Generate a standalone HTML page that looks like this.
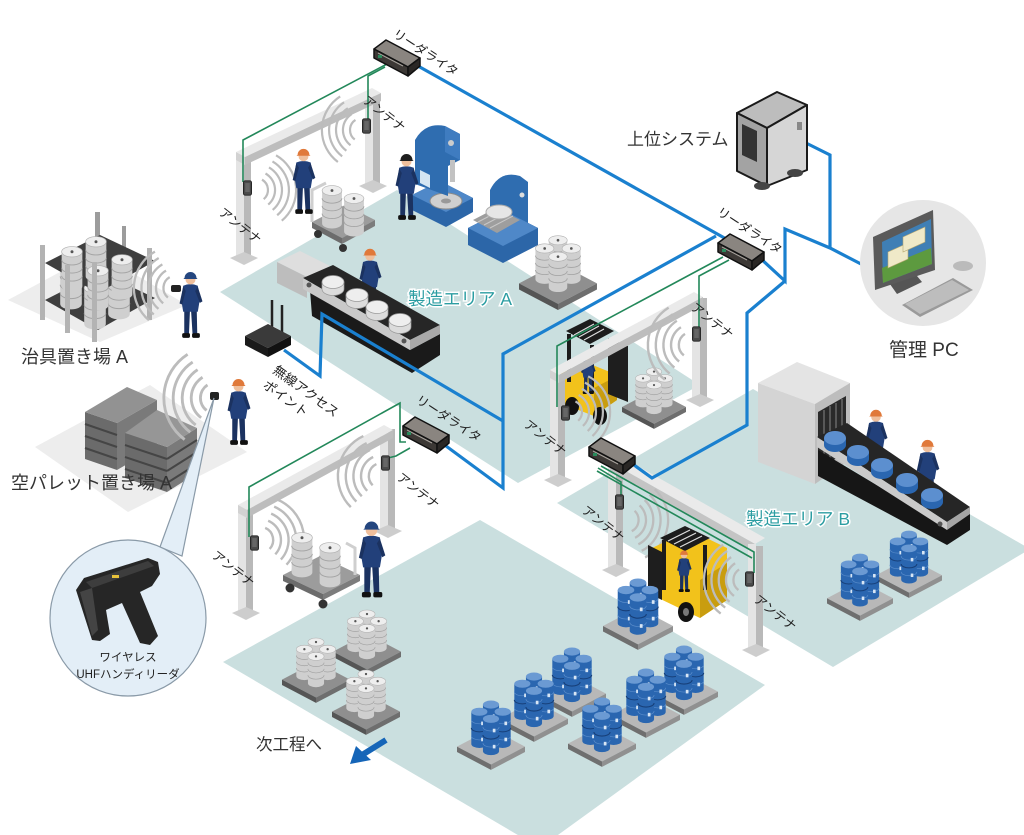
<!DOCTYPE html>
<html><head><meta charset="utf-8"><title>RFID factory</title>
<style>
html,body{margin:0;padding:0;background:#fff;width:1024px;height:835px;overflow:hidden}
svg{display:block}
text{font-family:"Liberation Sans","Noto Sans CJK JP",sans-serif}
</style></head><body>
<svg width="1024" height="835" viewBox="0 0 1024 835" xmlns="http://www.w3.org/2000/svg">
<defs>
<symbol id="man" viewBox="0 0 24 70" overflow="visible">
 <path d="M6,40 L11.5,40 L10.5,64 L6,64 Z" fill="#1b3260"/>
 <path d="M12.5,40 L18,40 L18.5,64 L14,64 Z" fill="#1b3260"/>
 <rect x="4" y="62.5" width="7.5" height="4.5" rx="1.5" fill="#111"/>
 <rect x="13.5" y="62.5" width="7.5" height="4.5" rx="1.5" fill="#111"/>
 <path d="M5,17 Q12,14 19,17 L21,30 L19,42 L5,42 L3,30 Z" fill="#22407a"/>
 <path d="M5,18 L1.5,34 L4,35 L7.5,22 Z" fill="#1b3260"/>
 <path d="M19,18 L23.5,32 L21,33.5 L16.5,22 Z" fill="#1b3260"/>
 <circle cx="12" cy="11" r="4.8" fill="#efbf9c"/>
 <path d="M6.3,9.5 A5.7,5.7 0 0 1 17.7,9.5 L18.8,10.5 L5.2,10.5 Z" fill="currentColor"/>
</symbol>
<symbol id="brl" viewBox="0 0 18 46" overflow="visible">
 <path d="M0,5 V41 A9,4.5 0 0 0 18,41 V5 Z" fill="#2a66b0"/>
 <path d="M0,23 A9,4.5 0 0 0 18,23" fill="none" stroke="#173f78" stroke-width="1.2"/>
 <path d="M0,14 A9,4.5 0 0 0 18,14 M0,32 A9,4.5 0 0 0 18,32" fill="none" stroke="#5a8dcb" stroke-width="0.8"/>
 <rect x="11" y="16" width="3" height="4" fill="#d8e6f5"/>
 <rect x="11" y="34" width="3" height="4" fill="#d8e6f5"/>
 <ellipse cx="9" cy="5" rx="9" ry="4.5" fill="#6b9ad3"/>
</symbol>
<symbol id="gdr" viewBox="0 0 18 40" overflow="visible">
 <path d="M0,5 V35 A9,4.5 0 0 0 18,35 V5 Z" fill="#cfcfcf"/>
 <path d="M0,12 A9,4.5 0 0 0 18,12 M0,19 A9,4.5 0 0 0 18,19 M0,26 A9,4.5 0 0 0 18,26" fill="none" stroke="#a3a3a3" stroke-width="0.8"/>
 <ellipse cx="9" cy="5" rx="9" ry="4.5" fill="#eeeeee" stroke="#b0b0b0" stroke-width="0.6"/>
 <circle cx="9" cy="5" r="1.3" fill="#555"/>
</symbol>
<symbol id="bpal" viewBox="0 0 76 78" overflow="visible">
 <polygon points="0,52 38,32 76,52 38,72" fill="#b8b8b8"/>
 <polygon points="0,52 38,72 38,78 0,58" fill="#6f6f6f"/>
 <polygon points="38,72 76,52 76,58 38,78" fill="#909090"/>
 <use href="#brl" x="29" y="0" width="18" height="46"/>
 <use href="#brl" x="16" y="8" width="18" height="46"/>
 <use href="#brl" x="42" y="8" width="18" height="46"/>
 <use href="#brl" x="29" y="16" width="18" height="46"/>
</symbol>
<symbol id="gpal" viewBox="0 0 76 78" overflow="visible">
 <polygon points="0,52 38,32 76,52 38,72" fill="#8f8f8f"/>
 <polygon points="0,52 38,72 38,78 0,58" fill="#555"/>
 <polygon points="38,72 76,52 76,58 38,78" fill="#6e6e6e"/>
 <use href="#gdr" x="29" y="5" width="18" height="40"/>
 <use href="#gdr" x="16" y="13" width="18" height="40"/>
 <use href="#gdr" x="42" y="13" width="18" height="40"/>
 <use href="#gdr" x="29" y="21" width="18" height="40"/>
</symbol>
<symbol id="rdr" viewBox="0 0 48 40" overflow="visible">
 <polygon points="1,11 13,2 47,20 35,29" fill="#8a8580" stroke="#111" stroke-width="1.5" stroke-linejoin="round"/>
 <polygon points="1,11 35,29 35,38 1,20" fill="#3c3835" stroke="#111" stroke-width="1.5" stroke-linejoin="round"/>
 <polygon points="35,29 47,20 47,28 35,38" fill="#2a2725" stroke="#111" stroke-width="1.5" stroke-linejoin="round"/>
 <line x1="5" y1="15" x2="30" y2="28" stroke="#a8a39d" stroke-width="1"/>
 <rect x="5" y="17" width="4" height="3" fill="#2a8a5c"/>
</symbol>
<symbol id="ant" viewBox="0 0 10 17" overflow="visible">
 <rect x="0.5" y="0.5" width="9" height="16" rx="2" fill="#4a4a4a" stroke="#222"/>
 <rect x="2.5" y="3" width="5" height="10" fill="#666"/>
</symbol>
<g id="wv" fill="none" stroke="#bcbcbc" stroke-width="2.2">
 <path d="M6.9,-9.8 A12,12 0 0 1 6.9,9.8"/>
 <path d="M10.9,-15.6 A19,19 0 0 1 10.9,15.6"/>
 <path d="M14.9,-21.3 A26,26 0 0 1 14.9,21.3"/>
 <path d="M18.9,-27 A33,33 0 0 1 18.9,27"/>
 <path d="M23,-32.8 A40,40 0 0 1 23,32.8"/>
</g>
</defs>

<!-- ============ FLOORS ============ -->
<polygon points="8,300 97,252 187,305 100,342" fill="#ededed"/>
<polygon points="35,447 150,385 247,452 128,512" fill="#ededed"/>
<polygon points="220,292 397,190 700,385 518,483" fill="#cadfdf"/>
<polygon points="557,503 753,389 1030,549 833,667" fill="#cadfdf"/>
<polygon points="223,662 480,520 765,685 540,848" fill="#cadfdf"/>

<!-- ============ RACK ============ -->
<g>
 <rect x="95" y="212" width="5" height="90" fill="#9c9c9c"/>
 <rect x="122" y="226" width="4" height="80" fill="#9c9c9c"/>
 <polygon points="45,300 100,272 155,298 98,330" fill="#3f3f3f"/>
 <use href="#gdr" x="60" y="262" width="22" height="48"/>
 <use href="#gdr" x="108" y="272" width="22" height="48"/>
 <use href="#gdr" x="84" y="282" width="22" height="48"/>
 <polygon points="45,263 100,235 155,261 98,293" fill="#3f3f3f"/>
 <use href="#gdr" x="60" y="246" width="24" height="46"/>
 <use href="#gdr" x="84" y="236" width="24" height="46"/>
 <use href="#gdr" x="110" y="254" width="24" height="46"/>
 <use href="#gdr" x="86" y="265" width="24" height="46"/>
 <rect x="40" y="245" width="5" height="75" fill="#b3b3b3"/>
 <rect x="65" y="265" width="5" height="68" fill="#b3b3b3"/>
 <rect x="92" y="262" width="5" height="80" fill="#b3b3b3"/>
 <rect x="147" y="248" width="5" height="72" fill="#b3b3b3"/>
</g>
<use href="#wv" transform="translate(176,288) rotate(185) scale(1.05)"/>
<use href="#man" x="178" y="268" width="25" height="73" color="#24467f"/>
<rect x="171" y="285" width="10" height="7" rx="2" fill="#222"/>

<!-- ============ PALLET STACK ============ -->
<g>
 <polygon points="85,412 117,423 117,470 85,459" fill="#6b6b6b"/>
 <polygon points="117,423 157,400 157,447 117,470" fill="#7a7a7a"/>
 <g stroke="#454545" stroke-width="2">
  <line x1="85" y1="424" x2="117" y2="435"/><line x1="85" y1="436" x2="117" y2="447"/><line x1="85" y1="448" x2="117" y2="459"/>
 </g>
 <polygon points="85,412 127,387 157,400 117,423" fill="#929292"/>
 <polygon points="125,433 167,447 167,492 125,478" fill="#6b6b6b"/>
 <polygon points="167,447 197,428 197,473 167,492" fill="#7a7a7a"/>
 <g stroke="#454545" stroke-width="2">
  <line x1="125" y1="445" x2="167" y2="459"/><line x1="125" y1="457" x2="167" y2="471"/><line x1="125" y1="469" x2="167" y2="483"/>
  <line x1="167" y1="459" x2="197" y2="440"/><line x1="167" y1="471" x2="197" y2="452"/><line x1="167" y1="483" x2="197" y2="464"/>
 </g>
 <polygon points="125,433 157,410 197,428 167,447" fill="#969696"/>
</g>
<use href="#wv" transform="translate(216,398) rotate(182) scale(1.3)"/>
<use href="#man" x="226" y="375" width="25" height="73" color="#e0793a"/>
<rect x="210" y="392" width="9" height="8" rx="2" fill="#222"/>

<!-- ============ TOP GATE ============ -->
<g>
 <rect x="236" y="154" width="8" height="104" fill="#e4e4e4"/>
 <rect x="244" y="158" width="7" height="100" fill="#b9b9b9"/>
 <polygon points="230,258 244,252 258,258 244,265" fill="#cdcdcd"/>
 <rect x="365" y="94" width="8" height="90" fill="#e4e4e4"/>
 <rect x="373" y="96" width="7" height="88" fill="#b9b9b9"/>
 <polygon points="359,186 373,180 387,186 373,193" fill="#cdcdcd"/>
 <polygon points="236,152 372,88 381,93 245,157" fill="#eaeaea"/>
 <polygon points="245,157 381,93 381,101 245,165" fill="#bdbdbd"/>
 <polygon points="236,152 245,157 245,165 236,160" fill="#d2d2d2"/>
</g>
<use href="#wv" transform="translate(256,190) rotate(-5)"/>
<use href="#wv" transform="translate(362,130) rotate(182)"/>

<!-- machines -->
<g>
 <path d="M412,195 L440,181 L473,198 L473,212 L446,227 L412,210 Z" fill="#2c66a8"/>
 <path d="M412,195 L440,181 L473,198 L446,212 Z" fill="#4f88c8"/>
 <ellipse cx="446" cy="201" rx="16" ry="8" fill="#d0d0d0" stroke="#8a8a8a"/>
 <ellipse cx="446" cy="201" rx="5" ry="2.5" fill="#999"/>
 <path d="M415,140 Q425,122 445,126 L460,134 L460,160 L448,166 L448,196 L415,184 Z" fill="#2f6db0"/>
 <path d="M445,126 L460,134 L460,160 L445,152 Z" fill="#3f7cc0"/>
 <rect x="450" y="160" width="5" height="22" fill="#c2c2c2"/>
 <circle cx="451" cy="143" r="3" fill="#ccc"/>
 <polygon points="420,170 430,175 430,188 420,183" fill="#d5e6f2"/>
</g>
<g>
 <path d="M490,190 Q500,170 520,176 L528,182 L528,238 L490,238 Z" fill="#2f6db0"/>
 <path d="M468,228 L503,210 L538,228 L538,245 L503,263 L468,245 Z" fill="#2c66a8"/>
 <path d="M468,228 L503,210 L538,228 L503,246 Z" fill="#4f88c8"/>
 <polygon points="473,220 496,208 520,220 497,233" fill="#9e9e9e"/>
 <g stroke="#c8c8c8" stroke-width="1"><line x1="478" y1="222" x2="501" y2="210"/><line x1="484" y1="225" x2="507" y2="213"/><line x1="490" y1="228" x2="513" y2="216"/></g>
 <ellipse cx="499" cy="212" rx="13" ry="7" fill="#e6e6e6" stroke="#aaa"/>
 <circle cx="522" cy="195" r="2.5" fill="#ddd"/>
</g>
<use href="#gpal" x="517" y="230" width="82" height="80"/>

<!-- cart + worker top -->
<g>
 <polygon points="312,222 345,205 375,220 342,238" fill="#9c9c9c"/>
 <polygon points="312,222 342,238 342,244 312,228" fill="#6c6c6c"/>
 <polygon points="342,238 375,220 375,226 342,244" fill="#7c7c7c"/>
 <circle cx="318" cy="234" r="4" fill="#333"/><circle cx="343" cy="248" r="4" fill="#333"/>
 <path d="M312,222 L312,190 L326,183" stroke="#cfcfcf" stroke-width="3" fill="none"/>
 <use href="#gdr" x="320" y="185" width="24" height="44"/>
 <use href="#gdr" x="342" y="193" width="24" height="44"/>
</g>
<use href="#man" x="291" y="145" width="25" height="72" color="#e0793a"/>
<use href="#man" x="394" y="150" width="25" height="73" color="#1e1e1e"/>

<!-- conveyor A -->
<use href="#man" x="358" y="245" width="24" height="70" color="#e0793a"/>
<g>
 <polygon points="277,262 300,251 330,266 307,277" fill="#dedede"/>
 <polygon points="277,262 307,277 307,298 277,283" fill="#bdbdbd"/>
 <polygon points="310,290 410,350 440,334 440,355 412,373 312,316" fill="#1a1a1a"/>
 <polygon points="303,278 333,265 440,325 410,340" fill="#262626"/>
 <polygon points="303,278 410,340 410,350 303,289" fill="#c9c9c9"/>
 <polygon points="410,340 440,325 440,334 410,350" fill="#a9a9a9"/>
 <circle cx="309" cy="285" r="2.5" fill="#555"/><circle cx="404" cy="341" r="2.5" fill="#555"/>
 <g fill="#dcdcdc" stroke="#9a9a9a" stroke-width="0.7">
  <path d="M322,282 v7 a11,6.5 0 0 0 22,0 v-7 z"/><ellipse cx="333" cy="282" rx="11" ry="6.5" fill="#eeeeee"/>
  <path d="M346,295 v7 a11,6.5 0 0 0 22,0 v-7 z"/><ellipse cx="357" cy="295" rx="11" ry="6.5" fill="#eeeeee"/>
  <path d="M366,307 v7 a11,6.5 0 0 0 22,0 v-7 z"/><ellipse cx="377" cy="307" rx="11" ry="6.5" fill="#eeeeee"/>
  <path d="M389,320 v7 a11,6.5 0 0 0 22,0 v-7 z"/><ellipse cx="400" cy="320" rx="11" ry="6.5" fill="#eeeeee"/>
 </g>
</g>

<!-- router -->
<g>
 <line x1="272" y1="300" x2="272" y2="333" stroke="#222" stroke-width="2.5"/>
 <line x1="282" y1="305" x2="282" y2="338" stroke="#222" stroke-width="2.5"/>
 <polygon points="245,336 268,324 291,336 268,348" fill="#3a3a3a"/>
 <polygon points="245,336 268,348 268,357 245,345" fill="#1a1a1a"/>
 <polygon points="268,348 291,336 291,345 268,357" fill="#111"/>
</g>

<!-- forklift A -->
<g>
 <polygon points="560,374 585,362 615,374 617,400 594,416 563,404" fill="#f2c21b"/>
 <polygon points="594,388 617,376 617,400 594,416" fill="#c99d0f"/>
 <line x1="569" y1="334" x2="569" y2="382" stroke="#1c1c1c" stroke-width="4"/>
 <line x1="592" y1="345" x2="592" y2="392" stroke="#1c1c1c" stroke-width="4"/>
 <polygon points="566,331 590,319 614,331 590,344" fill="#1c1c1c"/>
 <g stroke="#ddd" stroke-width="1.2"><line x1="574" y1="335" x2="594" y2="324"/><line x1="579" y1="337" x2="599" y2="326"/><line x1="584" y1="340" x2="604" y2="329"/></g>
 <polygon points="608,338 628,346 628,402 608,394" fill="#1e1e1e"/>
 <use href="#man" x="580" y="350" width="16" height="46" color="#e0793a"/>
 <ellipse cx="572" cy="406" rx="7" ry="9" fill="#111"/>
 <ellipse cx="600" cy="416" rx="7" ry="9" fill="#111"/>
</g>
<use href="#gpal" x="622" y="360" width="64" height="72"/>

<!-- forklift gate -->
<g>
 <rect x="550" y="370" width="8" height="110" fill="#e4e4e4"/>
 <rect x="558" y="374" width="7" height="106" fill="#b9b9b9"/>
 <polygon points="544,480 558,474 572,480 558,487" fill="#cdcdcd"/>
 <rect x="692" y="296" width="8" height="104" fill="#e4e4e4"/>
 <rect x="700" y="298" width="7" height="102" fill="#b9b9b9"/>
 <polygon points="686,400 700,394 714,400 700,407" fill="#cdcdcd"/>
 <polygon points="550,370 694,292 703,297 559,375" fill="#eaeaea"/>
 <polygon points="559,375 703,297 703,305 559,383" fill="#bdbdbd"/>
 <polygon points="550,370 559,375 559,383 550,378" fill="#d2d2d2"/>
</g>
<use href="#wv" transform="translate(570,412) rotate(-8)"/>
<use href="#wv" transform="translate(692,345) rotate(183) scale(1.1)"/>

<!-- ============ AREA B ============ -->
<g>
 <polygon points="758,383 797,362 850,383 815,404" fill="#e4e4e4"/>
 <polygon points="758,383 815,404 815,484 758,462" fill="#d4d4d4"/>
 <polygon points="815,404 850,383 850,460 815,484" fill="#bdbdbd"/>
 <polygon points="818,412 846,396 846,452 818,470" fill="#2a2a2a"/>
 <g stroke="#777" stroke-width="1.2"><line x1="824" y1="410" x2="824" y2="465"/><line x1="830" y1="406" x2="830" y2="461"/><line x1="836" y1="403" x2="836" y2="457"/><line x1="842" y1="399" x2="842" y2="454"/></g>
</g>
<use href="#man" x="864" y="406" width="24" height="70" color="#e0793a"/>
<use href="#man" x="915" y="436" width="25" height="72" color="#e0793a"/>
<g>
 <polygon points="818,450 947,527 970,512 970,530 947,545 818,476" fill="#161616"/>
 <polygon points="817,437 847,423 970,507 947,522" fill="#262626"/>
 <polygon points="817,437 947,522 947,530 817,447" fill="#cacaca"/>
 <polygon points="947,522 970,507 970,514 947,530" fill="#a5a5a5"/>
 <circle cx="940" cy="524" r="2.5" fill="#555"/>
 <g fill="#2a66b0">
  <path d="M824,438 v7 a11,7 0 0 0 22,0 v-7 z"/><ellipse cx="835" cy="438" rx="11" ry="7" fill="#5c8fcf"/>
  <path d="M847,452 v7 a11,7 0 0 0 22,0 v-7 z"/><ellipse cx="858" cy="452" rx="11" ry="7" fill="#5c8fcf"/>
  <path d="M871,465 v7 a11,7 0 0 0 22,0 v-7 z"/><ellipse cx="882" cy="465" rx="11" ry="7" fill="#5c8fcf"/>
  <path d="M896,480 v7 a11,7 0 0 0 22,0 v-7 z"/><ellipse cx="907" cy="480" rx="11" ry="7" fill="#5c8fcf"/>
  <path d="M921,495 v7 a11,7 0 0 0 22,0 v-7 z"/><ellipse cx="932" cy="495" rx="11" ry="7" fill="#5c8fcf"/>
 </g>
</g>
<use href="#bpal" x="876" y="530" width="66" height="68"/>
<use href="#bpal" x="827" y="553" width="66" height="68"/>

<!-- gate B -->
<g>
 <rect x="608" y="462" width="8" height="108" fill="#e4e4e4"/>
 <rect x="616" y="466" width="7" height="104" fill="#b9b9b9"/>
 <polygon points="602,570 616,564 630,570 616,577" fill="#cdcdcd"/>
 <polygon points="610,462 620,456 765,538 755,544" fill="#eaeaea"/>
 <polygon points="610,462 755,544 755,552 610,470" fill="#c4c4c4"/>
</g>
<use href="#wv" transform="translate(626,520) rotate(8) scale(1.05)"/>
<!-- forklift B -->
<g>
 <polygon points="652,548 690,530 727,548 727,600 700,618 652,595" fill="#f2c21b"/>
 <polygon points="700,580 727,563 727,600 700,618" fill="#c99d0f"/>
 <line x1="664" y1="540" x2="664" y2="590" stroke="#1c1c1c" stroke-width="4"/>
 <line x1="705" y1="545" x2="705" y2="590" stroke="#1c1c1c" stroke-width="4"/>
 <polygon points="660,538 685,526 710,538 685,551" fill="#1c1c1c"/>
 <g stroke="#ddd" stroke-width="1.2"><line x1="668" y1="541" x2="690" y2="530"/><line x1="674" y1="544" x2="696" y2="533"/><line x1="680" y1="547" x2="702" y2="536"/></g>
 <use href="#man" x="676" y="548" width="16" height="46" color="#e0793a"/>
 <polygon points="648,545 662,552 662,600 648,593" fill="#1e1e1e"/>
 <ellipse cx="686" cy="612" rx="8" ry="10" fill="#111"/>
 <ellipse cx="686" cy="612" rx="3" ry="4" fill="#777"/>
</g>
<use href="#bpal" x="603" y="578" width="70" height="72"/>
<g>
 <rect x="748" y="544" width="8" height="106" fill="#e4e4e4"/>
 <rect x="756" y="546" width="7" height="104" fill="#b9b9b9"/>
 <polygon points="742,650 756,644 770,650 756,657" fill="#cdcdcd"/>
</g>
<use href="#wv" transform="translate(746,580) rotate(182) scale(1.05)"/>

<!-- ============ LOWER GATE ============ -->
<g>
 <rect x="238" y="505" width="8" height="108" fill="#e4e4e4"/>
 <rect x="246" y="509" width="7" height="104" fill="#b9b9b9"/>
 <polygon points="232,613 246,607 260,613 246,620" fill="#cdcdcd"/>
 <rect x="380" y="427" width="8" height="104" fill="#e4e4e4"/>
 <rect x="388" y="429" width="7" height="102" fill="#b9b9b9"/>
 <polygon points="374,531 388,525 402,531 388,538" fill="#cdcdcd"/>
 <polygon points="238,505 384,425 393,430 247,510" fill="#eaeaea"/>
 <polygon points="247,510 393,430 393,438 247,518" fill="#bdbdbd"/>
 <polygon points="238,505 247,510 247,518 238,513" fill="#d2d2d2"/>
</g>
<use href="#wv" transform="translate(260,540) rotate(-12) scale(1.1)"/>
<use href="#wv" transform="translate(382,476) rotate(190) scale(1.1)"/>
<g>
 <polygon points="283,575 320,556 360,575 323,594" fill="#9c9c9c"/>
 <polygon points="283,575 323,594 323,600 283,581" fill="#6c6c6c"/>
 <polygon points="323,594 360,575 360,581 323,600" fill="#7c7c7c"/>
 <circle cx="290" cy="588" r="4.5" fill="#333"/><circle cx="323" cy="604" r="4.5" fill="#333"/>
 <path d="M355,575 L355,548 L346,543" stroke="#cfcfcf" stroke-width="3" fill="none"/>
 <use href="#gdr" x="290" y="532" width="24" height="46"/>
 <use href="#gdr" x="318" y="542" width="24" height="46"/>
</g>
<use href="#man" x="357" y="517" width="29" height="84" color="#24467f"/>

<!-- bottom gray pallets -->
<use href="#gpal" x="333" y="605" width="68" height="70"/>
<use href="#gpal" x="282" y="633" width="68" height="70"/>
<use href="#gpal" x="332" y="665" width="68" height="70"/>

<!-- bottom blue pallets -->
<use href="#bpal" x="650" y="645" width="68" height="70"/>
<use href="#bpal" x="538" y="647" width="68" height="70"/>
<use href="#bpal" x="612" y="668" width="68" height="70"/>
<use href="#bpal" x="500" y="672" width="68" height="70"/>
<use href="#bpal" x="568" y="697" width="68" height="70"/>
<use href="#bpal" x="457" y="700" width="68" height="70"/>

<!-- arrow -->
<line x1="386" y1="740" x2="362" y2="755" stroke="#1565b8" stroke-width="6"/>
<polygon points="350,764 356,746 371,760" fill="#1565b8"/>

<!-- ============ BLUE NETWORK LINES ============ -->
<g fill="none" stroke="#1a80cf" stroke-width="3.2" stroke-linejoin="miter">
 <path d="M418,66 L728,240"/>
 <path d="M716,236 L503,354 L503,488 L446,446"/>
 <path d="M284,350 L320,376 L322,314 L503,421"/>
 <path d="M760,258 L785,281 L785,229 L830,248 L861,264"/>
 <path d="M830,248 L830,155 L806,143"/>
 <path d="M785,281 L747,313 L747,425 L652,478 L634,465"/>
</g>

<!-- ============ GREEN ANTENNA CABLES ============ -->
<g fill="none" stroke="#23885a" stroke-width="1.6">
 <path d="M387,64 L243,140 L243,182"/>
 <path d="M385,67 L368,76 L368,120"/>
 <path d="M723,257 L557,346 L557,407"/>
 <path d="M729,260 L699,276 L699,328"/>
 <path d="M406,442 L400,442 L400,403 L249,487 L249,537"/>
 <path d="M410,448 L396,456 L388,458"/>
 <path d="M598,468 L621,482 L621,496"/>
 <path d="M601,466 L754,552 L754,573"/>
 <path d="M597,471 L752,558"/>
</g>

<!-- antennas -->
<use href="#ant" x="243" y="180" width="9" height="16"/>
<use href="#ant" x="362" y="118" width="9" height="16"/>
<use href="#ant" x="561" y="405" width="9" height="16"/>
<use href="#ant" x="692" y="326" width="9" height="16"/>
<use href="#ant" x="250" y="535" width="9" height="16"/>
<use href="#ant" x="381" y="455" width="9" height="16"/>
<use href="#ant" x="615" y="494" width="9" height="16"/>
<use href="#ant" x="745" y="571" width="9" height="16"/>

<!-- readers -->
<use href="#rdr" x="373" y="38" width="48" height="40"/>
<use href="#rdr" x="717" y="232" width="48" height="40"/>
<use href="#rdr" x="402" y="415" width="48" height="40"/>
<use href="#rdr" x="588" y="436" width="48" height="40"/>

<!-- ============ SERVER ============ -->
<g stroke="#1a1a1a" stroke-width="2" stroke-linejoin="round">
 <polygon points="737,113 777,92 807,105 767,128" fill="#bdbdbd"/>
 <polygon points="737,113 767,128 767,186 737,171" fill="#a3a3a3"/>
 <polygon points="767,128 807,105 807,170 767,186" fill="#d6d6d6"/>
</g>
<polygon points="742,124 757,131 757,162 742,155" fill="#333"/>
<rect x="797" y="122" width="5" height="8" fill="#888"/>
<ellipse cx="762" cy="186" rx="8" ry="4" fill="#444"/>
<ellipse cx="795" cy="173" rx="8" ry="4" fill="#444"/>

<!-- ============ PC ============ -->
<circle cx="923" cy="263" r="63" fill="#e6e6e6"/>
<polygon points="887,280 912,270 922,282 897,294" fill="#555"/>
<polygon points="873,237 933,210 935,270 875,290" fill="#5a5a5a"/>
<polygon points="882,242 931,219 932,264 883,283" fill="#3f7fb5"/>
<polygon points="882,268 931,248 932,264 883,283" fill="#5d9a3f"/>
<polygon points="888,252 908,243 908,259 888,268" fill="#efe9c8" stroke="#b8a870" stroke-width="0.6"/>
<polygon points="903,237 925,227 925,242 903,252" fill="#efe9c8" stroke="#b8a870" stroke-width="0.6"/>
<polygon points="902,305 953,278 973,290 920,317" fill="#9a9a9a"/>
<polygon points="905,304 952,280 969,290 920,314" fill="#bdbdbd"/>
<ellipse cx="963" cy="266" rx="10" ry="5" fill="#bbb"/>

<!-- ============ HANDHELD CALLOUT ============ -->
<polygon points="160,547 214,398 182,556" fill="#e3eef7" stroke="#8a9aa8" stroke-width="1.2"/>
<circle cx="128" cy="618" r="78" fill="#e3eef7" stroke="#8a9aa8" stroke-width="1.2"/>
<path d="M76,590 L84,578 L148,558 L158,562 L160,574 L152,586 L140,592 L158,636 L150,645 L140,643 L122,603 L106,610 L110,634 L100,641 L92,640 Z" fill="#262626"/>
<polygon points="86,582 148,561 154,566 92,588" fill="#3d3d3d"/>
<polygon points="80,592 92,588 98,630 92,636" fill="#444"/>
<rect x="112" y="575" width="7" height="3" fill="#e8c23a"/>

<!-- ============ TEXT ============ -->
<g fill="#222" font-size="12.5">
 <text transform="translate(392,36) rotate(33)">リーダライタ</text>
 <text transform="translate(716,214) rotate(33)">リーダライタ</text>
 <text transform="translate(415,402) rotate(33)">リーダライタ</text>
 <text transform="translate(362,102) rotate(38)">アンテナ</text>
 <text transform="translate(218,214) rotate(38)">アンテナ</text>
 <text transform="translate(690,309) rotate(38)">アンテナ</text>
 <text transform="translate(523,426) rotate(38)">アンテナ</text>
 <text transform="translate(396,479) rotate(38)">アンテナ</text>
 <text transform="translate(211,557) rotate(38)">アンテナ</text>
 <text transform="translate(581,512) rotate(38)">アンテナ</text>
 <text transform="translate(753,601) rotate(38)">アンテナ</text>
 <text transform="translate(272,372) rotate(36)" font-size="13">無線アクセス</text>
 <text transform="translate(262,387) rotate(36)" font-size="13">ポイント</text>
</g>
<g fill="#333">
 <text x="627" y="145" font-size="17">上位システム</text>
 <text x="889" y="356" font-size="19">管理 PC</text>
 <text x="21" y="363" font-size="18">治具置き場 A</text>
 <text x="11" y="489" font-size="18">空パレット置き場 A</text>
 <text x="256" y="750" font-size="16.5">次工程へ</text>
</g>
<g fill="#2b9da2" font-size="17.5" stroke="#ffffff" stroke-width="3" paint-order="stroke">
 <text x="408" y="305">製造エリア A</text>
 <text x="746" y="525">製造エリア B</text>
</g>
<g fill="#222" font-size="11.5" text-anchor="middle">
 <text x="128" y="661">ワイヤレス</text>
 <text x="128" y="678">UHFハンディリーダ</text>
</g>
</svg>
</body></html>
